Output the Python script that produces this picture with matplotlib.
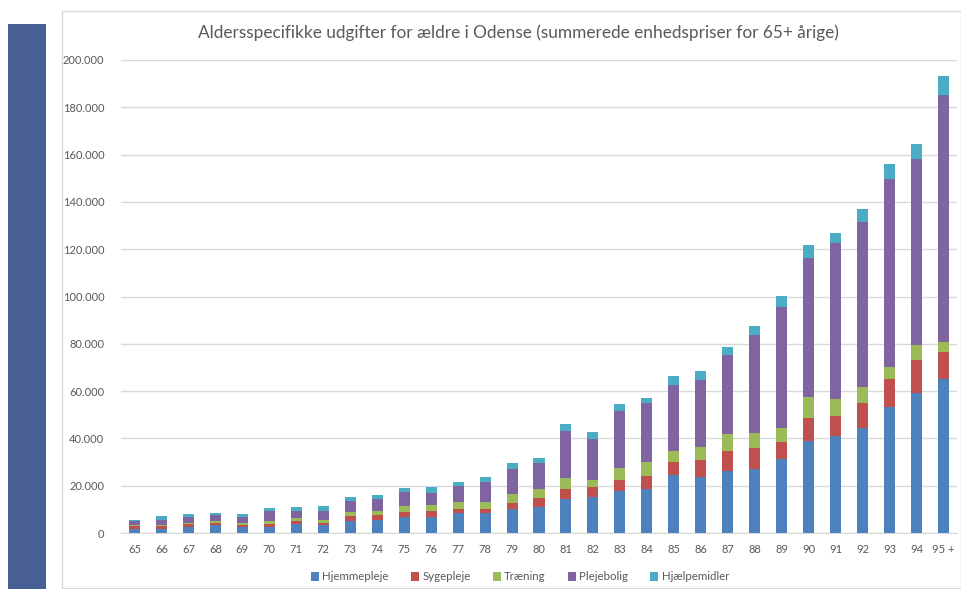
# Aldersspecifikke udgifter for ældre i Odense - stacked bars

import numpy as np
import matplotlib.pyplot as plt
from matplotlib.ticker import FuncFormatter, MultipleLocator
from matplotlib.patches import Rectangle

plt.rcParams['font.family'] = ['Lato', 'DejaVu Sans']

# Data (kr. in thousands)
ages = [str(a) for a in range(65, 95)] + ['95 +']
hjemmepleje = [1.8, 1.8, 2.4, 3.2, 2.4, 2.7, 3.9, 3.2, 5.0, 5.7, 6.9, 6.9, 8.3, 8.3, 10.0, 11.1,
               14.5, 15.1, 17.6, 18.7, 24.4, 23.8, 26.3, 26.9, 31.4, 38.7, 41.1, 44.5, 53.4, 59.3, 65.2]
sygepleje = [1.0, 1.0, 1.2, 0.9, 1.1, 1.2, 1.3, 1.1, 2.0, 2.0, 2.1, 2.5, 2.0, 2.0, 2.8, 3.8,
             4.2, 4.2, 4.9, 5.5, 5.7, 6.9, 8.2, 9.2, 7.2, 10.1, 8.5, 10.3, 11.8, 14.0, 11.5]
traening = [0.4, 0.4, 0.7, 0.8, 0.8, 1.3, 1.3, 1.3, 2.0, 1.7, 2.5, 2.5, 2.9, 2.9, 3.8, 3.8,
            4.7, 3.2, 5.1, 5.9, 4.7, 5.8, 7.5, 6.3, 5.9, 8.8, 7.2, 7.1, 5.1, 6.3, 4.2]
plejebolig = [1.7, 2.4, 2.6, 2.6, 2.6, 4.2, 2.9, 3.8, 4.7, 5.1, 6.0, 5.1, 6.8, 8.5, 10.6, 11.0,
              19.9, 17.4, 24.1, 24.7, 27.9, 28.3, 33.4, 41.4, 50.9, 58.8, 66.0, 69.7, 79.2, 78.7, 104.3]
hjaelpemidler = [0.7, 1.7, 1.3, 1.1, 1.3, 1.3, 1.7, 2.1, 1.7, 1.7, 1.7, 2.6, 1.7, 2.1, 2.5, 2.1,
                 2.9, 2.9, 3.0, 2.4, 3.8, 3.8, 3.4, 3.8, 4.6, 5.5, 4.2, 5.5, 6.7, 6.3, 8.2]

series = [('Hjemmepleje', hjemmepleje, '#4F81BD'),
          ('Sygepleje', sygepleje, '#C0504D'),
          ('Træning', traening, '#9BBB59'),
          ('Plejebolig', plejebolig, '#8064A2'),
          ('Hjælpemidler', hjaelpemidler, '#4BACC6')]

fig = plt.figure(figsize=(9.62, 5.89), dpi=100)

# decorative blue block on the left and chart frame
fig.patches.append(Rectangle((8 / 962, 0), 38 / 962, 1 - 24 / 589, transform=fig.transFigure,
                             facecolor='#475F94', edgecolor='none'))
fig.patches.append(Rectangle((62 / 962, 1 / 589), 899 / 962, 1 - 12 / 589, transform=fig.transFigure,
                             facecolor='none', edgecolor='#D9D9D9', linewidth=1))

ax = fig.add_axes([121 / 962, 1 - 533 / 589, 836 / 962, 473 / 589])

x = np.arange(len(ages))
bottom = np.zeros(len(ages))
for name, vals, col in series:
    v = np.array(vals) * 1000
    ax.bar(x, v, 0.41, bottom=bottom, color=col, label=name, zorder=3)
    bottom += v

ax.set_xlim(-0.5, len(ages) - 0.5)
ax.set_ylim(0, 200000)
ax.yaxis.set_major_locator(MultipleLocator(20000))
ax.yaxis.set_major_formatter(FuncFormatter(lambda v, p: f'{int(v):,}'.replace(',', '.')))
ax.set_xticks(x)
ax.set_xticklabels(ages)
ax.grid(axis='y', color='#D9D9D9', linewidth=1, zorder=0)
for s in ['top', 'right', 'left']:
    ax.spines[s].set_visible(False)
ax.spines['bottom'].set_color('#D9D9D9')
ax.tick_params(length=0, labelsize=8, colors='#595959')
ax.tick_params(axis='y', pad=12)
ax.tick_params(axis='x', pad=8)

fig.text(518 / 962, 1 - 33 / 589, 'Aldersspecifikke udgifter for ældre i Odense (summerede enhedspriser for 65+ årige)',
         ha='center', va='center', fontsize=12.4, color='#595959')

fig.legend(loc='center', bbox_to_anchor=(520 / 962, 1 - 577 / 589), ncol=5, frameon=False,
           fontsize=8.3, handlelength=0.7, handleheight=0.7, handletextpad=0.3, columnspacing=1.9,
           labelcolor='#595959')

fig.savefig('out.png', dpi=100)
